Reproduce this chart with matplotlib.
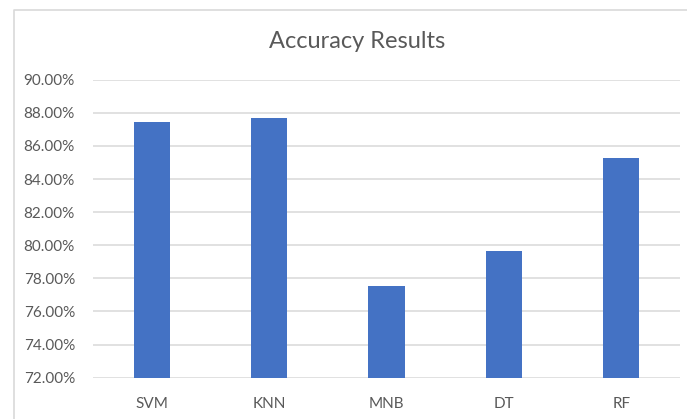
import matplotlib
matplotlib.use("Agg")
import matplotlib.pyplot as plt
from matplotlib.lines import Line2D
from matplotlib.ticker import FuncFormatter

models = ["SVM", "KNN", "MNB", "DT", "RF"]
accuracy = [87.43, 87.69, 77.52, 79.67, 85.29]
yticks = [72, 74, 76, 78, 80, 82, 84, 86, 88, 90]

plt.rcParams['font.family'] = ['Lato', 'DejaVu Sans']
text_grey = '#595959'

W, H = 687, 419
fig = plt.figure(figsize=(W / 100, H / 100), dpi=100)
ax = fig.add_axes([93 / W, 1 - 377.7 / H, (680 - 93) / W, (377.7 - 79.7) / H])

ax.bar(range(len(models)), accuracy, width=0.31, color='#4472C4', zorder=3)
ax.set_xlim(-0.5, len(models) - 0.5)
ax.set_ylim(72, 90)
ax.set_yticks(yticks)
ax.yaxis.set_major_formatter(FuncFormatter(lambda v, p: "%.2f%%" % v))
ax.set_xticks(range(len(models)))
ax.set_xticklabels(models)

ax.grid(axis='y', color='#d9d9d9', linewidth=1.1, zorder=0)
for s in ax.spines.values():
    s.set_visible(False)
ax.tick_params(axis='both', length=0, colors=text_grey, labelsize=11)
ax.tick_params(axis='y', pad=13)
ax.tick_params(axis='x', pad=14)

fig.text(357 / W, 1 - 42 / H, "Accuracy Results", ha='center', va='center',
         fontsize=17, color=text_grey)

# chart frame (only left and top edges visible in the crop)
fig.add_artist(Line2D([14 / W, 14 / W, 1], [0, 1 - 10 / H, 1 - 10 / H],
                      transform=fig.transFigure, color='#d9d9d9', linewidth=1.2))

fig.savefig("out.png", dpi=100)
